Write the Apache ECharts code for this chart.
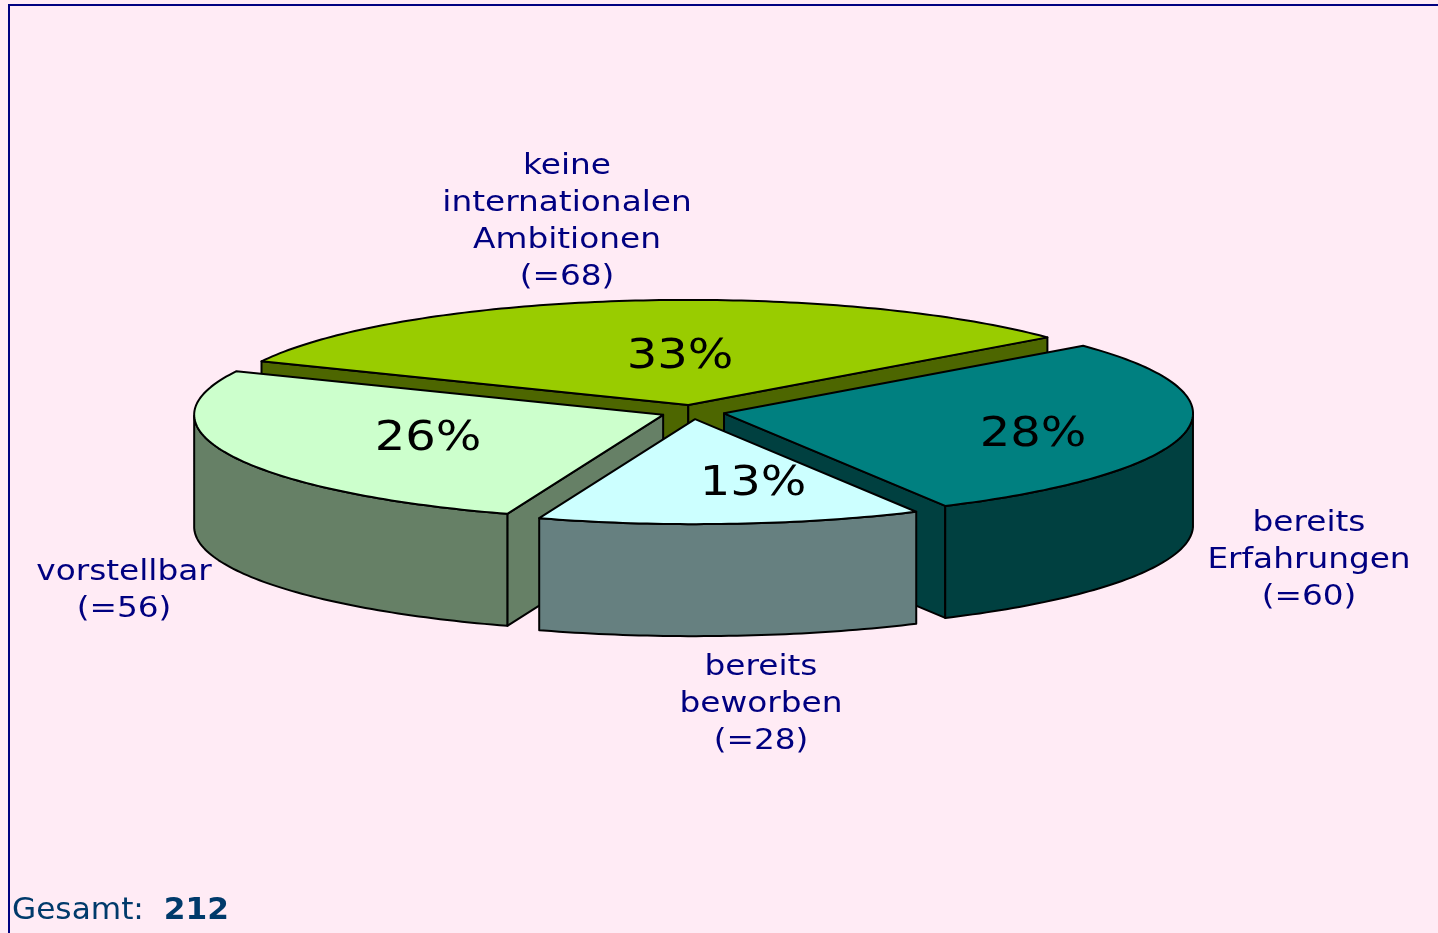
<!DOCTYPE html>
<html>
<head>
<meta charset="utf-8">
<style>
  html, body { margin: 0; padding: 0; background: #ffebf5; }
  #chart { width: 1438px; height: 933px; }
</style>
</head>
<body>
<div id="chart"></div>
<script src="https://cdn.jsdelivr.net/npm/echarts@6/dist/echarts.min.js"></script>
<script>
'use strict';
var categories = ['keine\ninternationalen\nAmbitionen', 'bereits\nErfahrungen', 'bereits\nbeworben', 'vorstellbar'];
var values = [68, 60, 28, 56];
var percents = [33, 28, 13, 26];
var total = 212;

var topColors = ['#99cc00', '#008080', '#ccffff', '#ccffcc'];
var sideColors = ['#4d6600', '#004040', '#668080', '#668066'];

// pie geometry: flat ellipse, turned clockwise from startAngle
var cx = 692.6, cy = 412, rx = 469, ry = 105, depth = 112, explode = 32, startAngle = 155.5;

var outerPos = [[567, 148], [1309, 505], [761, 649], [124, 554]];
var innerPos = [[680, 358], [1033, 436], [753, 485], [428, 440]];

var sum = values.reduce(function (a, b) { return a + b; }, 0);
var rad = Math.PI / 180;

function slices() {
  var a = startAngle;
  return values.map(function (v, i) {
    var a0 = a, a1 = a - v / sum * 360;
    a = a1;
    var mid = (a0 + a1) / 2 * rad;
    return {
      a0: a0, a1: a1, i: i,
      x: cx + explode * Math.cos(mid),
      y: cy - explode * ry / rx * Math.sin(mid)
    };
  });
}

function rimPoint(s, deg, drop) {
  return [s.x + rx * Math.cos(deg * rad), s.y - ry * Math.sin(deg * rad) + (drop || 0)];
}

function renderSlice(params, api) {
  var s = slices()[api.value(0)];
  var layer = Math.round((1 - Math.sin((s.a0 + s.a1) / 2 * rad)) * 100) * 10;
  var line = { stroke: '#000', lineWidth: 2, lineJoin: 'round' };
  var children = [];
  function poly(points, fill, z) {
    children.push({ type: 'polygon', z2: layer + z, shape: { points: points },
      style: Object.assign({ fill: fill }, line) });
  }
  // cut faces turned to the viewer
  [s.a0, s.a1].forEach(function (deg, k) {
    var visible = k === 0 ? Math.cos(deg * rad) < 0 : Math.cos(deg * rad) > 0;
    if (visible) {
      var p = rimPoint(s, deg);
      poly([[s.x, s.y], p, [p[0], p[1] + depth], [s.x, s.y + depth]], sideColors[s.i], 1);
    }
  });
  // outer wall, front half only
  var upper = [], lower = [], top = [[s.x, s.y]], deg;
  for (deg = s.a0; deg > s.a1; deg -= 1) {
    top.push(rimPoint(s, deg));
    if (Math.sin(deg * rad) <= 0) {
      upper.push(rimPoint(s, deg));
      lower.unshift(rimPoint(s, deg, depth));
    }
  }
  top.push(rimPoint(s, s.a1));
  if (Math.sin(s.a1 * rad) <= 0) {
    upper.push(rimPoint(s, s.a1));
    lower.unshift(rimPoint(s, s.a1, depth));
  }
  if (upper.length) {
    poly(upper.concat(lower), sideColors[s.i], 2);
  }
  poly(top, topColors[s.i], 3);
  return { type: 'group', children: children };
}

function renderText(params, api) {
  var i = api.value(0);
  return {
    type: 'group',
    children: [{
      type: 'text', x: outerPos[i][0], y: outerPos[i][1], scaleX: 1.17, silent: true,
      style: {
        text: categories[i] + '\n(=' + values[i] + ')',
        font: '28px "DejaVu Sans"', fill: '#000080',
        lineHeight: 37, align: 'center', verticalAlign: 'top'
      }
    }, {
      type: 'text', x: innerPos[i][0], y: innerPos[i][1], scaleX: 1.2, silent: true,
      style: {
        text: percents[i] + '%',
        font: '40px "DejaVu Sans"', fill: '#000',
        align: 'center', verticalAlign: 'middle'
      }
    }]
  };
}

var indexes = values.map(function (v, i) { return i; });
var chart = echarts.init(document.getElementById('chart'), null, { renderer: 'canvas' });
chart.setOption({
  backgroundColor: '#ffebf5',
  animation: false,
  tooltip: { show: false },
  graphic: [
    { type: 'line', shape: { x1: 9, y1: 5, x2: 9, y2: 933 }, style: { stroke: '#000080', lineWidth: 2 } },
    { type: 'line', shape: { x1: 8, y1: 5, x2: 1438, y2: 5 }, style: { stroke: '#000080', lineWidth: 2 } },
    {
      type: 'text', x: 12, y: 911, scaleX: 1.04,
      style: {
        text: 'Gesamt:  {b|' + total + '}',
        font: '30px "DejaVu Sans"', fill: '#003a6b', verticalAlign: 'middle',
        rich: { b: { font: 'bold 30px "DejaVu Sans"', fill: '#003a6b' } }
      }
    }
  ],
  series: [
    { type: 'custom', coordinateSystem: 'none', data: indexes, renderItem: renderSlice, silent: true, z: 2 },
    { type: 'custom', coordinateSystem: 'none', data: indexes, renderItem: renderText, silent: true, z: 3 }
  ]
});
</script>
</body>
</html>
